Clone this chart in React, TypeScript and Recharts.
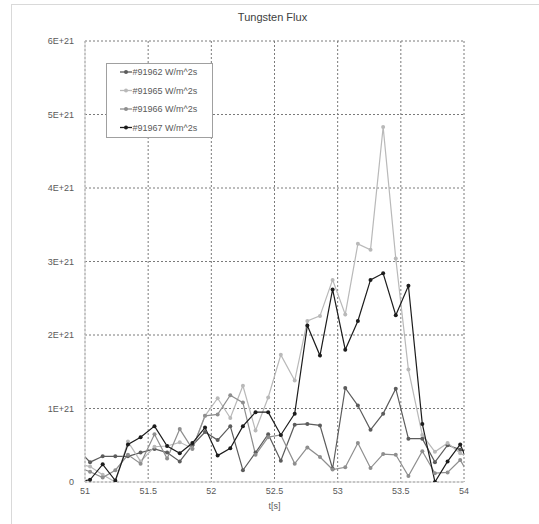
import React from "react";
import {
  LineChart,
  Line,
  XAxis,
  YAxis,
  CartesianGrid,
  Legend,
} from "recharts";

// time samples [s] (first and last lie just outside the 51–54 window and are clipped)
const times = [
  50.94, 51.04, 51.14, 51.24, 51.34, 51.44, 51.55, 51.65, 51.75, 51.85, 51.95,
  52.05, 52.15, 52.25, 52.35, 52.45, 52.55, 52.66, 52.76, 52.86, 52.96, 53.06,
  53.16, 53.26, 53.36, 53.46, 53.56, 53.67, 53.77, 53.87, 53.97, 54.07,
];

// flux values in units of 1E+21 W/m^2s
const s91962 = [
  0.45, 0.27, 0.35, 0.35, 0.35, 0.4, 0.45, 0.4, 0.28, 0.5, 0.68, 0.57, 0.76,
  0.16, 0.4, 0.65, 0.29, 0.78, 0.79, 0.77, 0.18, 1.28, 1.04, 0.71, 0.93, 1.27,
  0.59, 0.59, 0.27, 0.5, 0.44, 0.4,
];
const s91965 = [
  0.25, 0.21, 0.1, 0.0, 0.55, 0.28, 0.48, 0.49, 0.54, 0.46, 0.9, 1.14, 0.87,
  1.31, 0.7, 1.15, 1.73, 1.38, 2.19, 2.26, 2.75, 2.28, 3.24, 3.16, 4.83, 3.04,
  1.53, 0.64, 0.41, 0.53, 0.39, 0.3,
];
const s91966 = [
  0.2, 0.14, 0.06, 0.16, 0.37, 0.25, 0.65, 0.32, 0.72, 0.45, 0.9, 0.92, 1.18,
  1.08, 0.37, 0.61, 0.64, 0.25, 0.47, 0.34, 0.17, 0.2, 0.53, 0.19, 0.38, 0.37,
  0.08, 0.42, 0.12, 0.13, 0.3, 0.0,
];
const s91967 = [
  0.0, 0.03, 0.24, 0.02, 0.51, 0.61, 0.76, 0.49, 0.39, 0.53, 0.74, 0.36, 0.46,
  0.76, 0.95, 0.95, 0.64, 0.93, 2.13, 1.72, 2.62, 1.8, 2.19, 2.75, 2.84, 2.27,
  2.67, 0.79, 0.0, 0.28, 0.51, 0.11,
];

const xTicks = [51, 51.5, 52, 52.5, 53, 53.5, 54];
const yTicks = [0, 1, 2, 3, 4, 5, 6];

const seriesDefs = [
  { key: "a", name: "#91962 W/m^2s", values: s91962, color: "#5c5c5c" },
  { key: "b", name: "#91965 W/m^2s", values: s91965, color: "#b9b9b9" },
  { key: "c", name: "#91966 W/m^2s", values: s91966, color: "#8e8e8e" },
  { key: "d", name: "#91967 W/m^2s", values: s91967, color: "#1c1c1c" },
];

const data = times.map((t, i) => {
  const row: Record<string, number> = { t };
  seriesDefs.forEach((s) => {
    row[s.key] = s.values[i];
  });
  return row;
});

const FONT = '"Liberation Sans", Arial, sans-serif';

const LegendBox = () => (
  <svg width={107} height={75} style={{ display: "block" }}>
    <rect x={0.5} y={0.5} width={106} height={74} fill="#fff" stroke="#a0a0a0" />
    {seriesDefs.map((s, i) => {
      const y = 9 + i * 18.5;
      return (
        <g key={s.key}>
          <line x1={14} x2={26} y1={y} y2={y} stroke={s.color} strokeWidth={1.3} />
          <circle cx={20} cy={y} r={2} fill={s.color} />
          <text
            x={26.5}
            y={y}
            dominantBaseline="central"
            fontSize={9}
            fill="#595959"
            fontFamily={FONT}
          >
            {s.name}
          </text>
        </g>
      );
    })}
  </svg>
);

const fmtY = (v: number) => (v === 0 ? "0" : `${v}E+21`);

export default function App() {
  return (
    <div
      style={{
        position: "absolute",
        left: 0,
        top: 0,
        width: 539,
        height: 524,
        background: "#fff",
        fontFamily: FONT,
      }}
    >
      <div
        style={{
          position: "absolute",
          left: 11,
          top: 4,
          width: 540,
          height: 530,
          borderTop: "1px solid #d9d9d9",
          borderLeft: "1px solid #d9d9d9",
        }}
      />
      <div
        style={{
          position: "absolute",
          left: 0,
          width: 545,
          top: 10,
          textAlign: "center",
          fontSize: 11,
          color: "#404040",
          lineHeight: "14px",
        }}
      >
        Tungsten Flux
      </div>
      <div style={{ position: "absolute", left: 0, top: 0 }}>
        <LineChart
          width={539}
          height={524}
          data={data}
          margin={{ top: 41, right: 75, bottom: 12, left: 15 }}
        >
          <CartesianGrid
            stroke="#7a7a7a"
            strokeDasharray="2 2"
            verticalPoints={undefined}
          />
          <XAxis
            dataKey="t"
            type="number"
            domain={[51, 54]}
            ticks={xTicks}
            allowDataOverflow
            tickLine={false}
            axisLine={{ stroke: "#cfcfcf" }}
            tick={{ fontSize: 9, fill: "#595959", fontFamily: FONT }}
            tickMargin={0}
            height={30}
            label={{
              value: "t[s]",
              position: "insideBottom",
              offset: 3,
              fontSize: 9,
              fill: "#595959",
              fontFamily: FONT,
            }}
          />
          <YAxis
            type="number"
            domain={[0, 6]}
            ticks={yTicks}
            allowDataOverflow
            tickLine={false}
            axisLine={{ stroke: "#cfcfcf" }}
            tick={{ fontSize: 9, fill: "#595959", fontFamily: FONT }}
            tickFormatter={fmtY}
            tickMargin={5}
            width={70}
          />
          <Legend
            layout="vertical"
            align="center"
            verticalAlign="middle"
            wrapperStyle={{ position: "absolute", left: 106, top: 63, width: 107, height: 75 }}
            content={() => <LegendBox />}
          />
          {seriesDefs.map((s) => (
            <Line
              key={s.key}
              dataKey={s.key}
              name={s.name}
              type="linear"
              stroke={s.color}
              strokeWidth={1.2}
              dot={{ r: 2, fill: s.color, stroke: s.color, strokeWidth: 0 }}
              activeDot={false}
              isAnimationActive={false}
            />
          ))}
        </LineChart>
      </div>
    </div>
  );
}
